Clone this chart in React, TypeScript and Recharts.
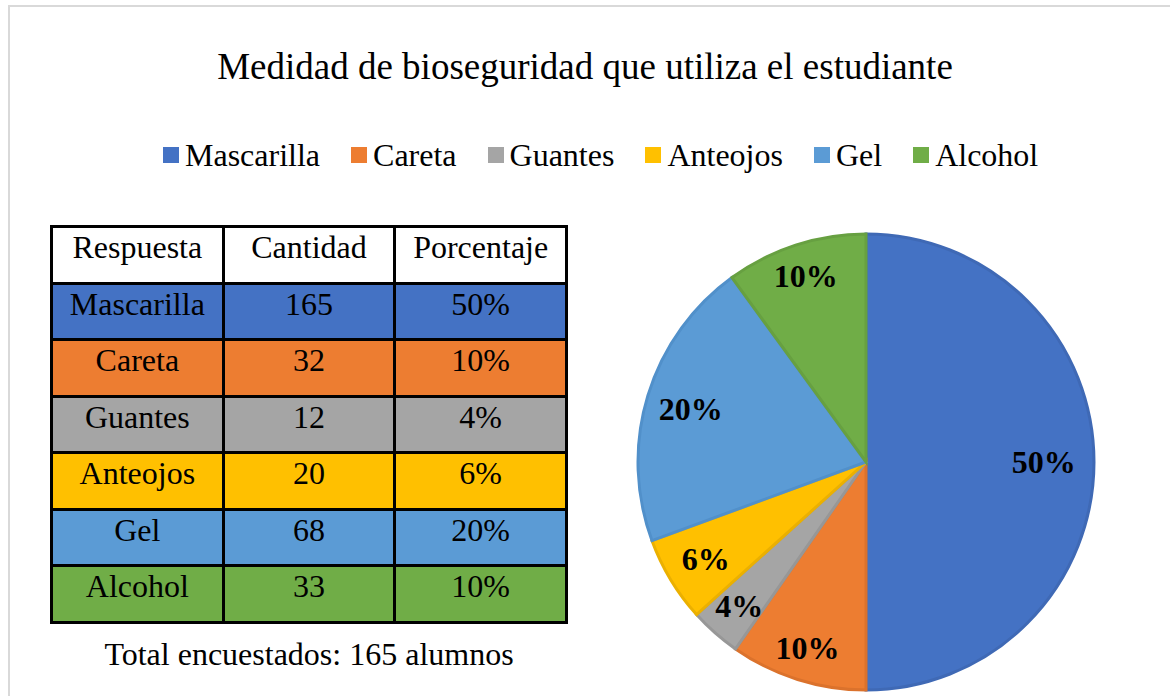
import { PieChart, Pie, Cell, Legend } from "recharts";

const respuestas = ["Mascarilla", "Careta", "Guantes", "Anteojos", "Gel", "Alcohol"];
const cantidades = [165, 32, 12, 20, 68, 33];
const porcentajes = ["50%", "10%", "4%", "6%", "20%", "10%"];
const encabezados = ["Respuesta", "Cantidad", "Porcentaje"];

const COLORS = ["#4472C4", "#ED7D31", "#A5A5A5", "#FFC000", "#5B9BD5", "#70AD47"];
const EDGES = ["#3F69B5", "#DB722C", "#979797", "#EBB000", "#5190CA", "#67A041"];

const FONT = '"Liberation Serif", "Times New Roman", serif';
const RAD = Math.PI / 180;

const data = respuestas.map((name, i) => ({ name, value: cantidades[i], pct: porcentajes[i] }));

function renderLabel(props: any) {
  const { cx, cy, midAngle, outerRadius, index } = props;
  const s = Math.abs(Math.sin(-midAngle * RAD));
  const r = outerRadius * (0.78 + 0.08 * s);
  const x = cx + r * Math.cos(-midAngle * RAD);
  const y = cy + r * Math.sin(-midAngle * RAD);
  return (
    <text x={x} y={y} textAnchor="middle" dominantBaseline="central"
      fontFamily={FONT} fontSize={32} fontWeight="bold" fill="#000">
      {porcentajes[index]}
    </text>
  );
}

function LegendRow() {
  return (
    <div style={{ display: "flex", alignItems: "center", fontFamily: FONT, fontSize: 32, lineHeight: "34px", whiteSpace: "nowrap" }}>
      {respuestas.map((r, i) => (
        <div key={r} style={{ display: "flex", alignItems: "center", marginRight: i < respuestas.length - 1 ? 31 : 0 }}>
          <span style={{ width: 16, height: 16, background: COLORS[i], marginRight: 6, display: "inline-block" }} />
          <span style={{ color: "#000" }}>{r}</span>
        </div>
      ))}
    </div>
  );
}

function Tabla() {
  const cellBase: React.CSSProperties = {
    textAlign: "center",
    paddingTop: 2,
    boxSizing: "border-box",
    fontFamily: FONT,
    fontSize: 32,
    lineHeight: "34px",
    color: "#000",
  };
  return (
    <div style={{
      position: "absolute", left: 50, top: 225, width: 518, height: 399,
      background: "#000", padding: 3, gap: 3, boxSizing: "border-box",
      display: "grid", gridTemplateColumns: "1fr 1fr 1fr", gridTemplateRows: "repeat(7, 1fr)",
    }}>
      {encabezados.map((h) => (
        <div key={h} style={{ ...cellBase, background: "#fff" }}>{h}</div>
      ))}
      {respuestas.map((r, i) => [
        <div key={r + "a"} style={{ ...cellBase, background: COLORS[i] }}>{r}</div>,
        <div key={r + "b"} style={{ ...cellBase, background: COLORS[i] }}>{cantidades[i]}</div>,
        <div key={r + "c"} style={{ ...cellBase, background: COLORS[i] }}>{porcentajes[i]}</div>,
      ])}
    </div>
  );
}

export default function App() {
  return (
    <div style={{ position: "absolute", left: 0, top: 0, width: 1170, height: 696, overflow: "hidden", background: "#fff" }}>
      <div style={{ position: "absolute", left: 8, top: 5, width: 1250, height: 800, borderLeft: "2px solid #d9d9d9", borderTop: "2px solid #d9d9d9" }} />
      <div style={{ position: "absolute", left: 0, top: 46, width: 1170, textAlign: "center", fontFamily: FONT, fontSize: 37, lineHeight: "42px", color: "#000" }}>
        Medidad de bioseguridad que utiliza el estudiante
      </div>
      <div style={{ position: "absolute", left: 0, top: 0 }}>
        <PieChart width={1170} height={696} margin={{ top: 0, right: 0, bottom: 0, left: 0 }}>
          <Legend content={() => <LegendRow />} wrapperStyle={{ top: 138, left: 163, width: "auto", height: 34 }} />
          <Pie
            data={data}
            dataKey="value"
            nameKey="name"
            cx={866}
            cy={462}
            outerRadius={228}
            startAngle={90}
            endAngle={-270}
            label={renderLabel}
            labelLine={false}
            isAnimationActive={false}
          >
            {data.map((d, i) => (
              <Cell key={d.name} fill={COLORS[i]} stroke={EDGES[i]} strokeWidth={3} />
            ))}
          </Pie>
        </PieChart>
      </div>
      <Tabla />
      <div style={{ position: "absolute", left: 50, top: 637, width: 518, textAlign: "center", fontFamily: FONT, fontSize: 32, lineHeight: "34px", color: "#000" }}>
        Total encuestados: 165 alumnos
      </div>
    </div>
  );
}
